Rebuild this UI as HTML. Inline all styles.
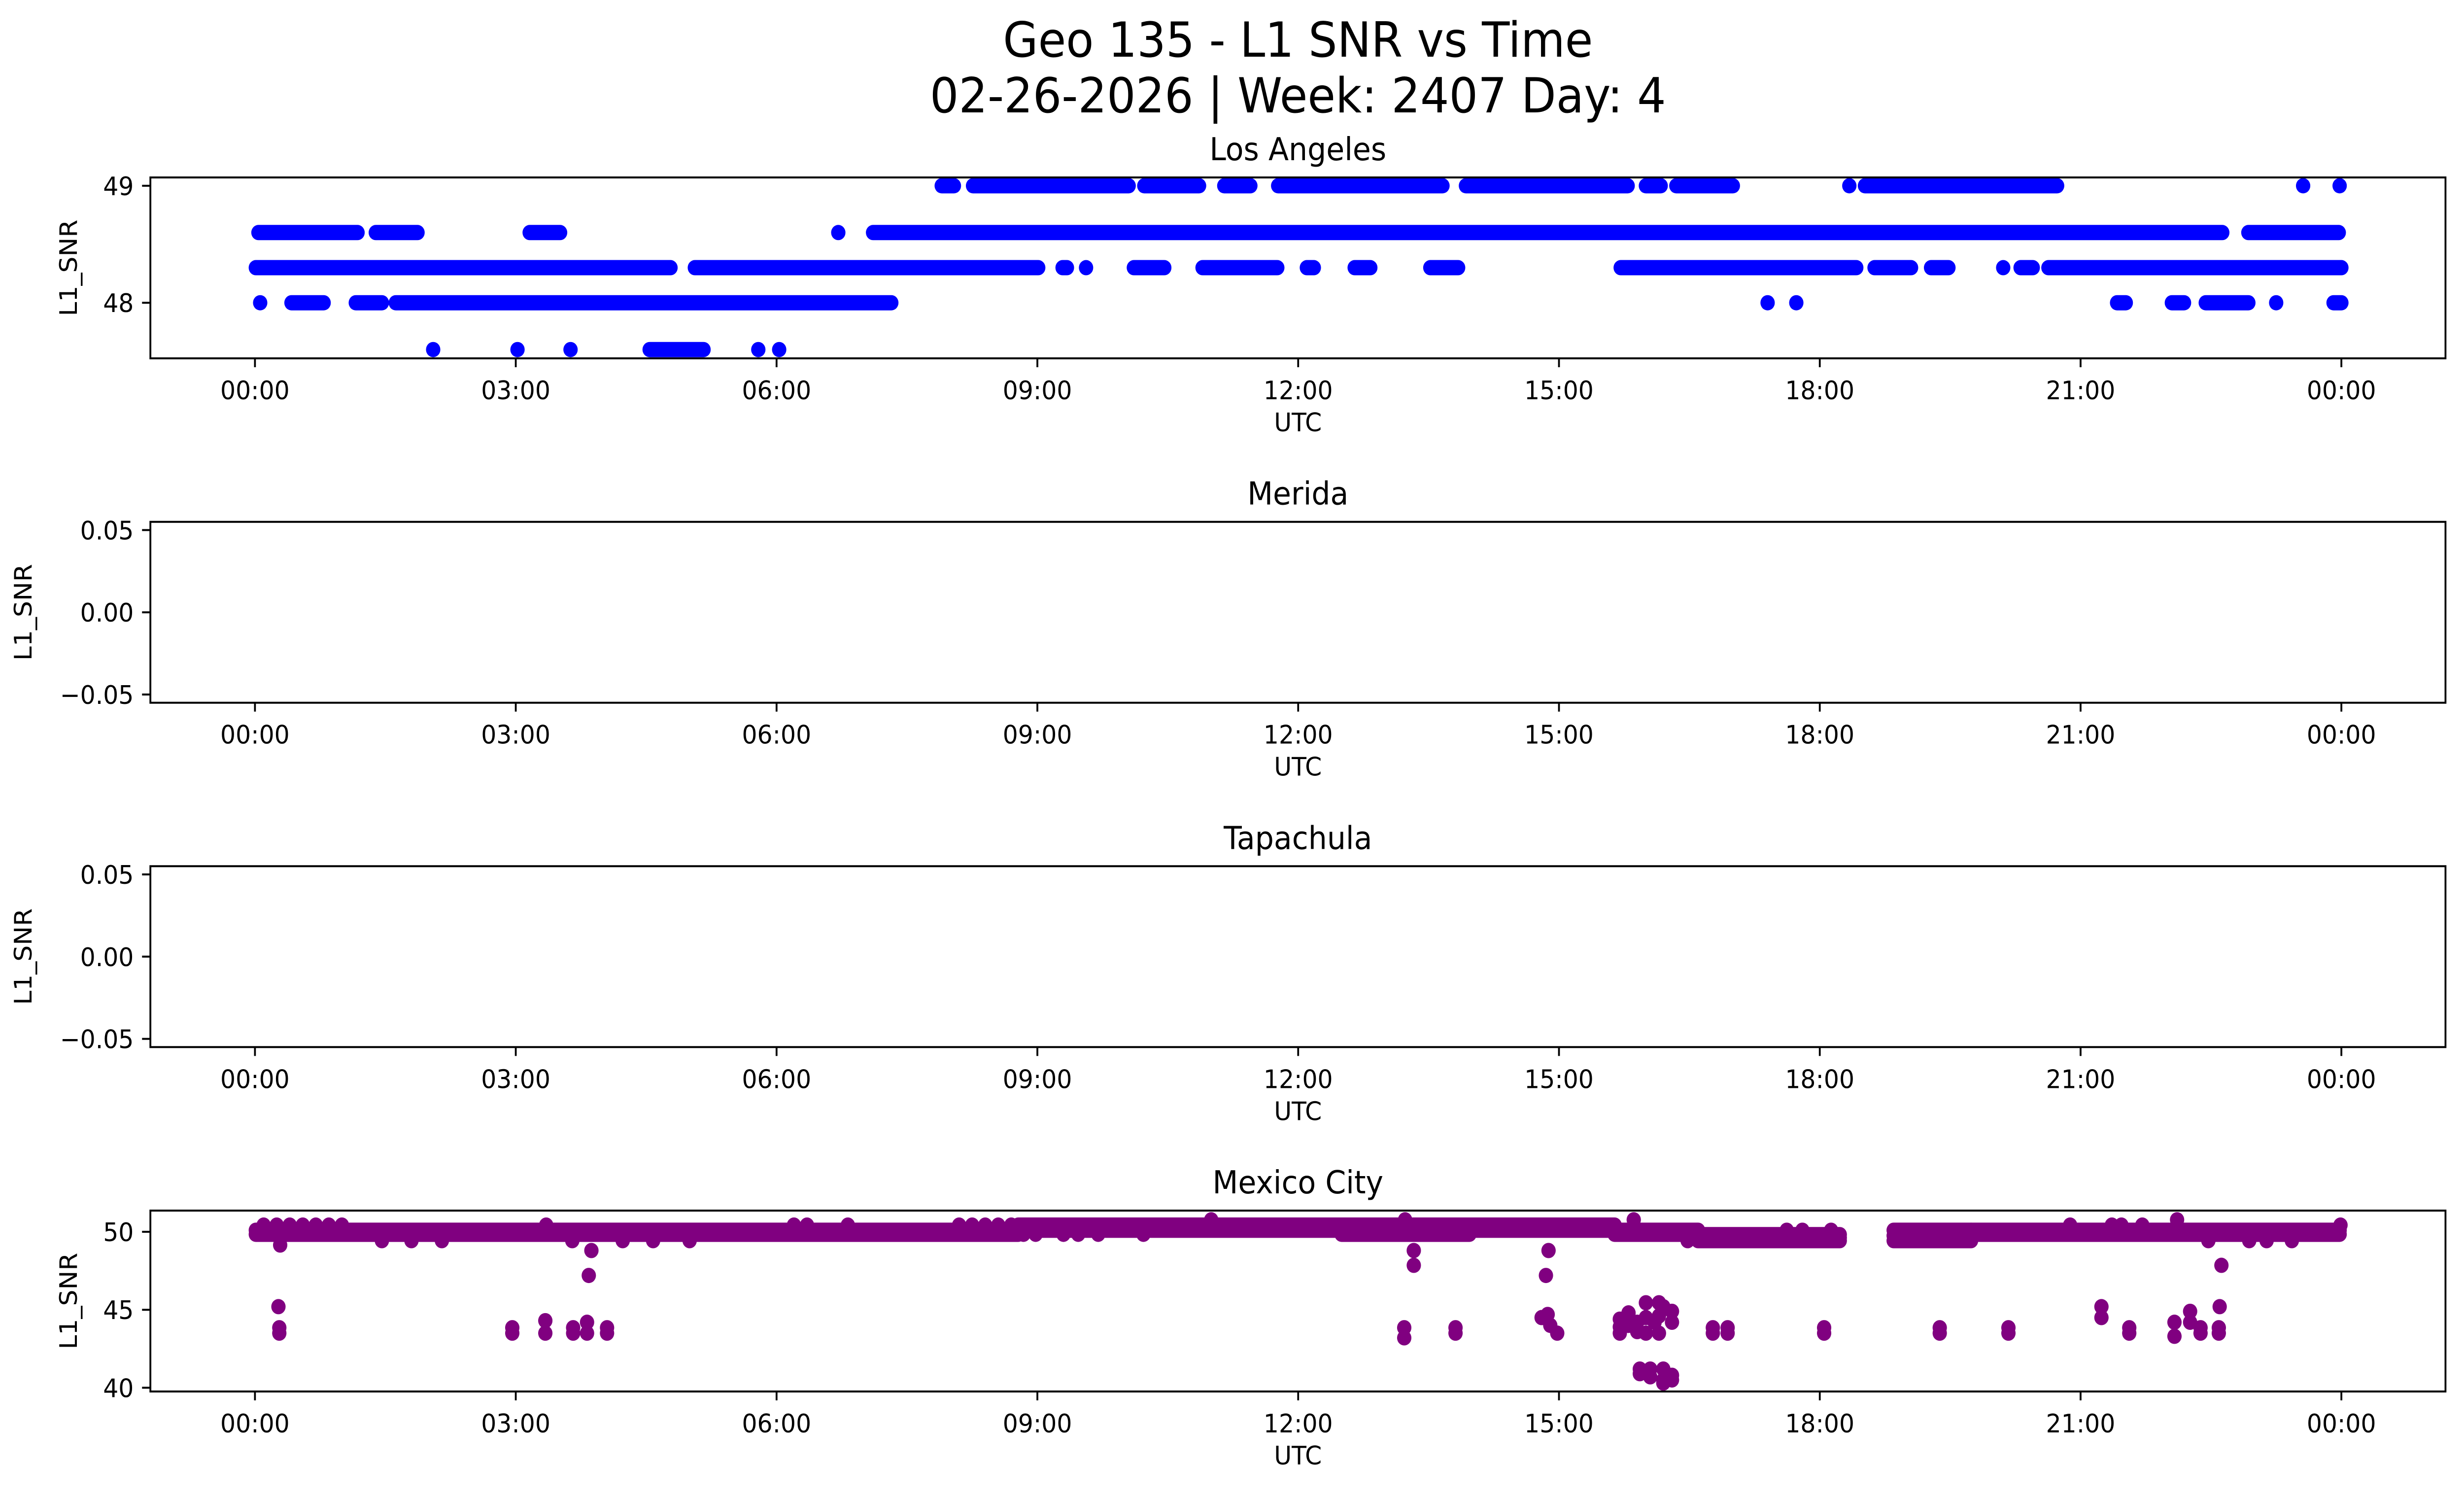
<!DOCTYPE html>
<html><head><meta charset="utf-8"><style>
html,body{margin:0;padding:0;background:#fff;overflow:hidden;width:100%;height:100%;}
svg{display:block;position:absolute;left:0;top:0;width:100vw;height:100vh;font-family:"DejaVu Sans","Liberation Sans",sans-serif;}
</style></head><body>
<svg id="fig" viewBox="0 0 5325 3033" preserveAspectRatio="none" xmlns="http://www.w3.org/2000/svg">
<rect width="5325" height="3033" fill="#fff"/>
<text x="2805" y="115" font-size="98" text-anchor="middle">Geo 135 - L1 SNR vs Time</text>
<text x="2805" y="228" font-size="98" text-anchor="middle">02-26-2026 | Week: 2407 Day: 4</text>
</svg>
<script>
// ---- Time axis ticks (hours) ----
const xTickHours = [0, 3, 6, 9, 12, 15, 18, 21, 24];
const xTickLabels = ["00:00","03:00","06:00","09:00","12:00","15:00","18:00","21:00","00:00"];

// ---- Los Angeles: runs of consecutive samples [start hour, end hour, SNR] ----
const laRunStart = [0.04,1.39,3.16,6.71,7.11,22.93, 0.01,5.06,9.29,9.56,10.11,10.9,12.1,12.65,13.52,15.71,18.63,19.28,20.11,20.31,20.63, 7.9,8.26,10.23,11.15,11.77,13.93,16.0,16.35,18.34,18.52,23.56,23.98, 0.06,0.42,1.16,1.62,17.4,17.73,21.42,22.05,22.44,23.25,23.91, 2.05,3.02,3.63,4.54,5.79,6.03];
const laRunEnd   = [1.18,1.87,3.51,6.71,22.63,23.97, 4.78,9.01,9.34,9.56,10.46,11.76,12.18,12.83,13.84,18.42,19.05,19.48,20.11,20.45,24.0, 8.04,10.05,10.86,11.45,13.66,15.79,16.17,17.0,18.34,20.73,23.56,23.98, 0.06,0.79,1.46,7.32,17.4,17.73,21.52,22.19,22.93,23.25,24.0, 2.05,3.02,3.63,5.16,5.79,6.03];
const laRunValue = [48.6,48.6,48.6,48.6,48.6,48.6, 48.3,48.3,48.3,48.3,48.3,48.3,48.3,48.3,48.3,48.3,48.3,48.3,48.3,48.3,48.3, 49,49,49,49,49,49,49,49,49,49,49,49, 48,48,48,48,48,48,48,48,48,48,48, 47.6,47.6,47.6,47.6,47.6,47.6];
const laYTicks = [48, 49];
const laYLim = [47.525, 49.071];

// ---- Mexico City: runs and isolated samples ----
const mxRunStart = [0.01,0.01,8.78,8.78,12.5,15.64,15.64,16.6,16.6,16.6,18.85,18.85,18.85,19.74,19.74];
const mxRunEnd   = [8.78,8.78,15.64,15.64,13.97,16.6,16.6,18.23,18.23,18.23,19.74,19.74,19.74,23.98,23.98];
const mxRunValue = [50.1,49.84,50.43,50.1,49.84,50.1,49.84,49.82,49.62,49.43,50.1,49.75,49.43,50.1,49.84];
const mxPtTime = [0.1,0.25,0.4,0.55,0.7,0.85,1.0,3.35,6.2,6.35,6.82,8.1,8.25,8.4,8.55,8.7,20.88,21.36,21.47,21.71,23.99,
  17.62,17.8,18.13, 11.0,13.23,15.86,22.11,
  1.46,1.8,2.15,3.65,4.23,4.58,5.0,22.47,22.94,23.14,23.43,16.48, 8.84,8.98,9.3,9.47,9.7,10.22, 0.29,
  3.87,13.33,14.88,3.84,14.85,13.33,22.62,0.27,21.24,22.6,
  0.28,0.28,2.96,2.96,3.66,3.66,4.05,4.05,13.22,13.22,13.81,13.81,16.77,16.77,16.94,16.94,18.05,18.05,19.38,19.38,20.17,20.17,21.56,21.56,22.38,22.38,22.59,22.59,
  3.34,3.34,3.82,3.82,14.8,14.9,14.98,14.87,21.24,22.08,22.08,22.26,22.26,
  15.7,15.7,15.7,15.8,15.8,15.9,15.9,16.0,16.0,16.0,16.1,16.15,16.15,16.15,16.2,16.3,16.3,
  15.93,15.93,16.05,16.05,16.2,16.2,16.2,16.3,16.3];
const mxPtValue = [50.43,50.43,50.43,50.43,50.43,50.43,50.43,50.43,50.43,50.43,50.43,50.43,50.43,50.43,50.43,50.43,50.43,50.43,50.43,50.43,50.43,
  50.1,50.1,50.1, 50.77,50.77,50.77,50.77,
  49.43,49.43,49.43,49.43,49.43,49.43,49.43,49.43,49.43,49.43,49.43,49.43, 49.84,49.84,49.84,49.84,49.84,49.84, 49.15,
  48.8,48.8,48.8,47.2,47.2,47.85,47.85,45.2,45.2,45.2,
  43.85,43.5,43.85,43.5,43.85,43.5,43.85,43.5,43.85,43.2,43.85,43.5,43.85,43.5,43.85,43.5,43.85,43.5,43.85,43.5,43.85,43.5,43.85,43.5,43.85,43.5,43.85,43.5,
  44.3,43.5,44.2,43.5,44.5,44.0,43.5,44.7,44.5,44.2,43.3,44.9,44.2,
  44.4,43.9,43.5,44.8,44.0,44.2,43.6,45.45,44.5,43.5,44.2,45.45,44.6,43.5,45.2,44.9,44.2,
  41.2,40.9,41.2,40.7,41.2,40.5,40.3,40.8,40.5];
const mxYTicks = [40, 45, 50];
const mxYLim = [39.76, 51.36];

// ---- Empty panels ----
const emptyYTicks = [-0.05, 0.0, 0.05];
const emptyYTickLabels = ["\u22120.05", "0.00", "0.05"];
const emptyYLim = [-0.055, 0.055];

const panelTitles = ["Los Angeles", "Merida", "Tapachula", "Mexico City"];

// ---- layout ----
const NS = "http://www.w3.org/2000/svg";
const svg = document.getElementById("fig");
const L = 325, R = 5285, PH = 367, TOPS = [360, 1058.7, 1757.3, 2456];
const X0 = 551, X24 = 5060;
const DOT_R = 15.5;
function xScale(h){ return X0 + (X24 - X0) * h / 24; }
function yScaleFor(top, lim){ return v => top + (lim[1] - v) / (lim[1] - lim[0]) * PH; }
function mk(tag, attrs, parent){
  const e = document.createElementNS(NS, tag);
  for (const k in attrs) e.setAttribute(k, attrs[k]);
  (parent || svg).appendChild(e);
  return e;
}

function drawAxes(i, lim, yTicks, yLabels, ylabelX){
  const top = TOPS[i], y = yScaleFor(top, lim);
  const g = mk("g", {});
  
  
  const t = mk("text", {x: (L + R) / 2, y: top - 35, "font-size": 64, "text-anchor": "middle"}, g);
  t.textContent = panelTitles[i];
  
  
  xTickHours.forEach((h, k) => {
    const tx = xScale(h);
    const tk = mk("line", {x1: tx, x2: tx, y1: top + PH, y2: top + PH + 18, stroke: "#000", "stroke-width": 4}, g);
    
    
    const tl = mk("text", {x: tx, y: top + PH + 83, "font-size": 52, "text-anchor": "middle"}, g);
    tl.textContent = xTickLabels[k];
    
    
  });
  yTicks.forEach((v, k) => {
    const ty = y(v);
    const tk = mk("line", {x1: L - 18, x2: L, y1: ty, y2: ty, stroke: "#000", "stroke-width": 4}, g);
    
    
    const tl = mk("text", {x: L - 36, y: ty + 19, "font-size": 52, "text-anchor": "end"}, g);
    tl.textContent = yLabels[k];
    
    
  });
  const xl = mk("text", {x: (L + R) / 2, y: top + PH + 148, "font-size": 52, "text-anchor": "middle"}, g);
  xl.textContent = "UTC";
  
  
  const cy = top + PH / 2;
  const yl = mk("text", {x: ylabelX, y: cy, "font-size": 52, "text-anchor": "middle", transform: "rotate(-90 " + ylabelX + " " + cy + ")"}, g);
  yl.textContent = "L1_SNR";
  
  
  return {g, y, top};
}
function drawFrame(i){
  const f = mk("rect", {x: L, y: TOPS[i], width: R - L, height: PH, fill: "none", stroke: "#000", "stroke-width": 4});
  
  
}
function drawRuns(ax, starts, ends, vals, color, name){
  const g = mk("g", {}, ax.g);
  
  
  starts.forEach((s, k) => {
    const ln = mk("line", {x1: xScale(s), x2: xScale(ends[k]), y1: ax.y(vals[k]), y2: ax.y(vals[k]), stroke: color, "stroke-width": DOT_R * 2, "stroke-linecap": "round"}, g);
    
    
  });
}
function drawPoints(ax, times, vals, color, name){
  const g = mk("g", {}, ax.g);
  
  
  times.forEach((h, k) => {
    const c = mk("circle", {cx: xScale(h), cy: ax.y(vals[k]), r: DOT_R, fill: color}, g);
    
    
  });
}

const a1 = drawAxes(0, laYLim, laYTicks, laYTicks.map(String), 166);
drawRuns(a1, laRunStart, laRunEnd, laRunValue, "#0000ff", "los-angeles-series");
drawFrame(0);
drawAxes(1, emptyYLim, emptyYTicks, emptyYTickLabels, 68);
drawFrame(1);
drawAxes(2, emptyYLim, emptyYTicks, emptyYTickLabels, 68);
drawFrame(2);
const a4 = drawAxes(3, mxYLim, mxYTicks, mxYTicks.map(String), 166);
drawRuns(a4, mxRunStart, mxRunEnd, mxRunValue, "#800080", "mexico-city-series");
drawPoints(a4, mxPtTime, mxPtValue, "#800080", "mexico-city-points");
drawFrame(3);
</script>
</body></html>
